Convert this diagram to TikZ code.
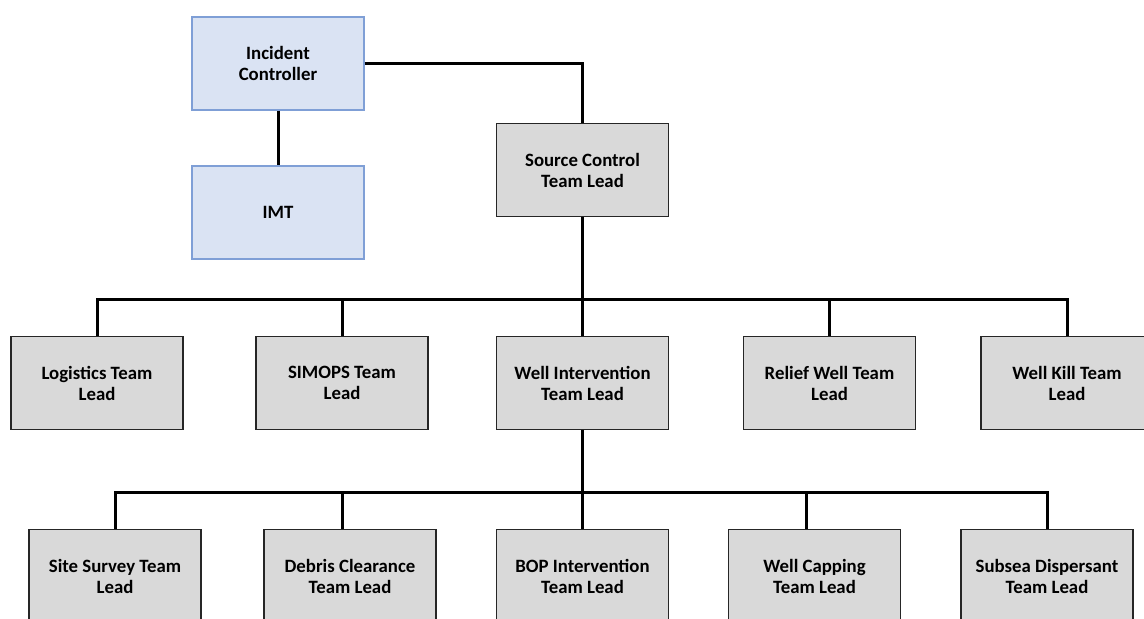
\documentclass[tikz,border=0pt]{standalone}
\usepackage{fontspec}
\setmainfont{Carlito}
\usepackage{xcolor}
\usetikzlibrary{positioning,calc}
\definecolor{boxgray}{HTML}{D9D9D9}
\definecolor{boxblue}{HTML}{DAE3F3}
\definecolor{edgeblue}{HTML}{7F9FD6}

\begin{document}
\begin{tikzpicture}[
  x=0.5pt, y=-0.5pt,
  box/.style={rectangle, draw, line width=0.7pt, minimum width=86pt,
              minimum height=46.5pt, inner sep=2pt, align=center,
              font=\fontsize{9.4}{10.5}\selectfont\bfseries},
  lead/.style={box, fill=boxgray, draw=black!85},
  ctrl/.style={box, fill=boxblue, draw=edgeblue},
  link/.style={line width=1.5pt},
]
  \useasboundingbox (0,0) rectangle (1144,619);
  \clip (0,0) rectangle (1144,619);

  \node[ctrl] (ic) at (278,63.5) {Incident\\Controller};
  \node[ctrl] (imt) at (278,212.5) {IMT};
  \node[lead] (src) at (582.5,170) {Source Control\\Team Lead};
  \draw[link] (ic) -- (imt);
  \draw[link] (ic.east) -| (src.north);

  \node[lead] (log) at (97,383) {Logistics Team\\Lead};
  \node[lead] (simops) at (342,383) {SIMOPS Team\\Lead};
  \node[lead] (wi) at (582.5,383) {Well Intervention\\Team Lead};
  \node[lead] (relief) at (829.5,383) {Relief Well Team\\Lead};
  \node[lead] (kill) at (1067,383) {Well Kill Team\\Lead};

  \coordinate (bus1) at (582.5,300);
  \draw[link] (src) -- (wi);
  \draw[link] (log.north) |- (bus1) -| (kill.north);
  \foreach \n in {simops, relief}
    \draw[link] (\n.north) -- (\n.north |- bus1);

  \node[lead] (site) at (115,576) {Site Survey Team\\Lead};
  \node[lead] (debris) at (350,576) {Debris Clearance\\Team Lead};
  \node[lead] (bop) at (582.5,576) {BOP Intervention\\Team Lead};
  \node[lead] (capping) at (814.5,576) {Well Capping\\Team Lead};
  \node[lead] (subsea) at (1047,576) {Subsea Dispersant\\Team Lead};

  \coordinate (bus2) at (582.5,492);
  \draw[link] (wi) -- (bop);
  \draw[link] (site.north) |- (bus2) -| (subsea.north);
  \foreach \n in {debris, capping}
    \draw[link] ([xshift=-4pt]\n.north) -- ([xshift=-4pt]\n.north |- bus2);
\end{tikzpicture}
\end{document}
